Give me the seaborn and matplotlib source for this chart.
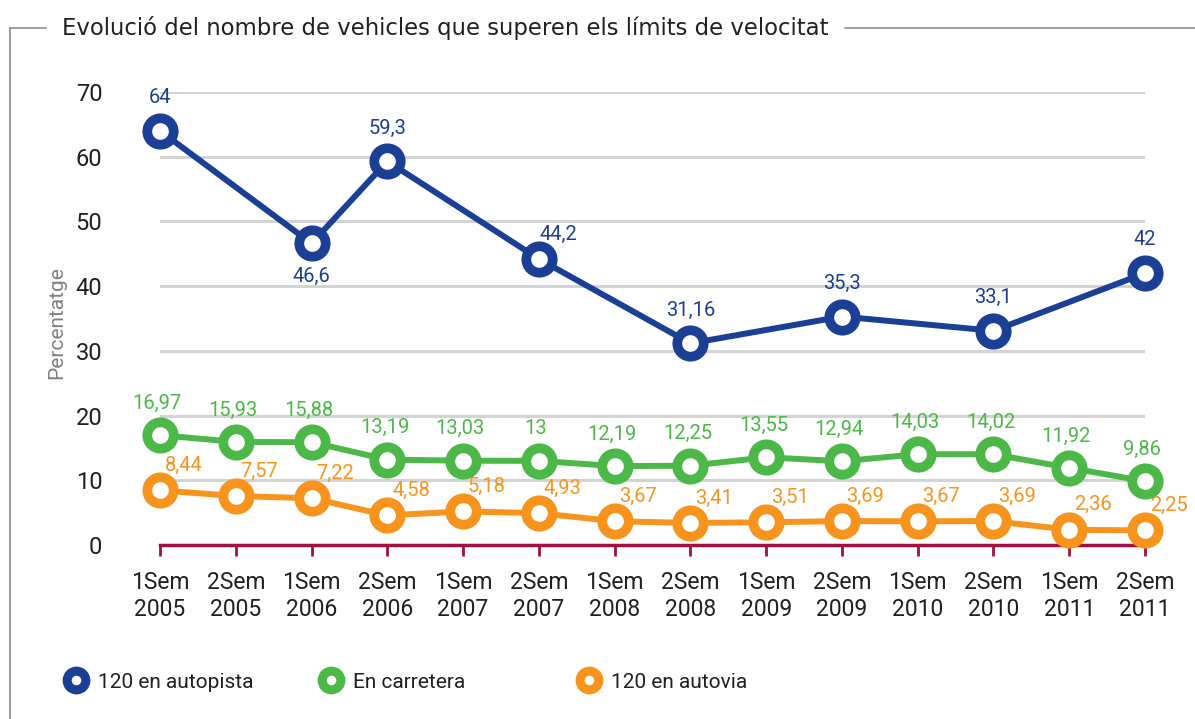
import numpy as np
import pandas as pd
import matplotlib.pyplot as plt
import seaborn as sns
from matplotlib.lines import Line2D

sns.set_style('white')
plt.rcParams['font.family'] = ['Roboto', 'DejaVu Sans']

PERIODS = ['1Sem\n2005', '2Sem\n2005', '1Sem\n2006', '2Sem\n2006', '1Sem\n2007',
           '2Sem\n2007', '1Sem\n2008', '2Sem\n2008', '1Sem\n2009', '2Sem\n2009',
           '1Sem\n2010', '2Sem\n2010', '1Sem\n2011', '2Sem\n2011']
AUTOPISTA = [64, np.nan, 46.6, 59.3, np.nan, 44.2, np.nan, 31.16, np.nan, 35.3,
             np.nan, 33.1, np.nan, 42]
CARRETERA = [16.97, 15.93, 15.88, 13.19, 13.03, 13, 12.19, 12.25, 13.55, 12.94,
             14.03, 14.02, 11.92, 9.86]
AUTOVIA = [8.44, 7.57, 7.22, 4.58, 5.18, 4.93, 3.67, 3.41, 3.51, 3.69,
           3.67, 3.69, 2.36, 2.25]
SERIES = ['120 en autopista', 'En carretera', '120 en autovia']
COLORS = ['#1B3F95', '#4CB848', '#F7941D']

TEXT = '#231F20'
AXIS_RED = '#A50D45'

df = pd.DataFrame({'pos': np.arange(len(PERIODS)),
                   SERIES[0]: AUTOPISTA, SERIES[1]: CARRETERA, SERIES[2]: AUTOVIA})

fig = plt.figure(figsize=(11.95, 7.19), dpi=100)
ax = fig.add_axes([160 / 1195, 1 - 545 / 719, 985 / 1195, 453 / 719])

# draw order: orange, green, blue on top
for name, color, z in [(SERIES[2], COLORS[2], 3), (SERIES[1], COLORS[1], 4), (SERIES[0], COLORS[0], 5)]:
    sub = df[['pos', name]].dropna()
    sns.lineplot(data=sub, x='pos', y=name, ax=ax, color=color, lw=4.3,
                 marker='o', ms=19, mew=7, mfc='white', mec=color,
                 clip_on=False, zorder=z, sort=False)

# value labels
fmt = lambda v: ('%g' % v).replace('.', ',')
blue_off = {2: (0, -24), 5: (14, 18)}
for i, v in enumerate(AUTOPISTA):
    if np.isnan(v):
        continue
    ax.annotate(fmt(v), (i, v), xytext=blue_off.get(i, (0, 24)), textcoords='offset points',
                ha='center', va='center', color=COLORS[0], fontsize=14.5)
for i, v in enumerate(CARRETERA):
    ax.annotate(fmt(v), (i, v), xytext=(-2, 23), textcoords='offset points',
                ha='center', va='center', color=COLORS[1], fontsize=14.5)
for i, v in enumerate(AUTOVIA):
    ax.annotate(fmt(v), (i, v), xytext=(17, 18), textcoords='offset points',
                ha='center', va='center', color=COLORS[2], fontsize=14.5)

ax.set_xlim(0, len(PERIODS) - 1)
ax.set_ylim(0, 70)
ax.set_yticks(range(0, 71, 10))
ax.set_xticks(df['pos'])
ax.set_xticklabels(PERIODS, fontsize=16.5, color=TEXT, linespacing=1.2)
ax.tick_params(axis='y', left=False, pad=38, labelsize=17, labelcolor=TEXT)
ax.tick_params(axis='x', bottom=True, length=8, width=2, color=AXIS_RED, pad=11, direction='out')
for t in ax.get_yticklabels():
    t.set_horizontalalignment('right')
ax.set_xlabel('')
ax.set_ylabel('Percentatge', color='#808080', fontsize=15)
ax.yaxis.set_label_coords(-0.095, 0.49)

for y in range(10, 71, 10):
    ax.axhline(y, color='#D3D3D3', lw=2.2, zorder=1)
for s in ['top', 'right', 'left']:
    ax.spines[s].set_visible(False)
ax.spines['bottom'].set_color(AXIS_RED)
ax.spines['bottom'].set_linewidth(2.5)
ax.spines['bottom'].set_zorder(2)

# frame around the chart
frame = dict(color='#8C8C8C', lw=1.2, transform=fig.transFigure)
fig.add_artist(Line2D([10 / 1195, 10 / 1195], [0, 1 - 28 / 719], **frame))
fig.add_artist(Line2D([10 / 1195, 46 / 1195], [1 - 28 / 719] * 2, **frame))
fig.add_artist(Line2D([845 / 1195, 1], [1 - 28 / 719] * 2, **frame))
fig.text(62 / 1195, 1 - 28 / 719, 'Evolució del nombre de vehicles que superen els límits de velocitat',
         ha='left', va='center', fontsize=16.4, color=TEXT, family=['DejaVu Sans'])

# legend, one entry per anchor so each sits where the original has it
for name, color, x0 in zip(SERIES, COLORS, [63, 318, 576]):
    h = Line2D([], [], color=color, lw=0, marker='o', ms=13.5, mew=6.5, mfc='white', mec=color)
    fig.legend([h], [name], loc='center left', bbox_to_anchor=(x0 / 1195, 1 - 682 / 719),
               frameon=False, fontsize=15, handletextpad=0.5, labelcolor=TEXT,
               handlelength=1.2, borderpad=0, borderaxespad=0)

fig.savefig('out.png', dpi=100, facecolor='white')
